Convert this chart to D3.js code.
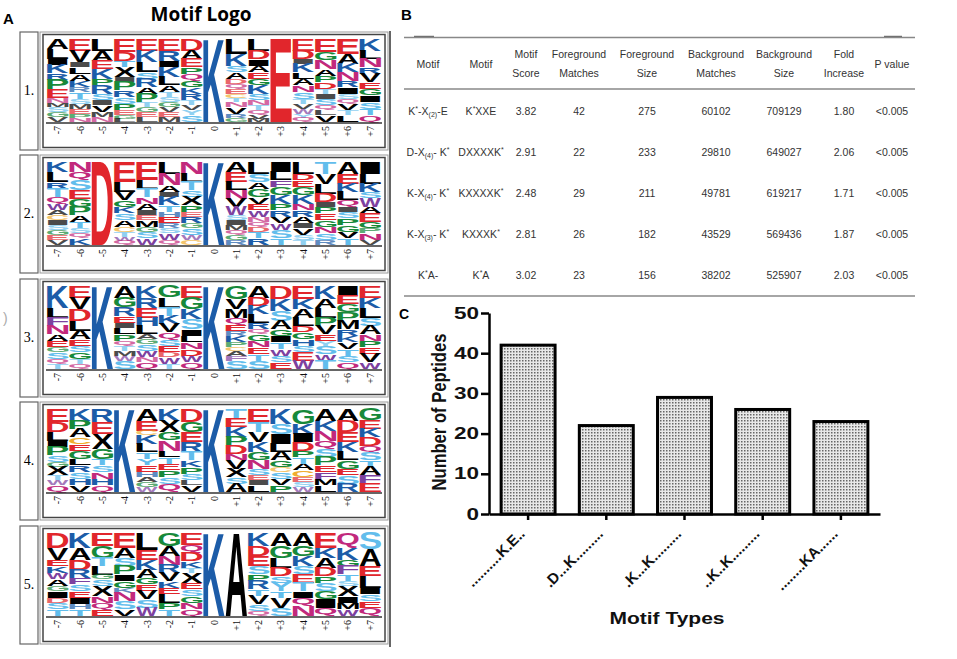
<!DOCTYPE html>
<html>
<head>
<meta charset="utf-8">
<script src="https://cdn.jsdelivr.net/npm/d3@7"></script>
<style>
  body { margin: 0; background: #fff; }
  svg { display: block; }
</style>
</head>
<body>
<svg id="fig" width="957" height="659"></svg>
<script>
// ---- Panel A data: sequence logo stacks, top letter first, "letter height%" ----
const positions = ["-7", "-6", "-5", "-4", "-3", "-2", "-1", "0", "+1", "+2", "+3", "+4", "+5", "+6", "+7"];
const rowNames = ["1.", "2.", "3.", "4.", "5."];

const logo1 = [
  "A12 L12 I7 K10 R8 P12 E10 N6 M5 S6 G6 V6",
  "E14 V14 I6 L8 A8 K8 R6 T8 S6 M6 E6 P5 N5",
  "L14 A12 E10 K12 P8 R10 S8 I6 V8 M6 N6",
  "E16 D10 T8 X12 I6 P10 R8 S8 P8 E6 G4 L4",
  "E14 K14 L12 S8 R10 A8 P10 T6 G6 E6 L6",
  "E14 R12 I8 K12 L10 A8 T6 S6 G6 V6 E6 M6",
  "D14 A10 E10 P8 Q8 G8 K8 R8 T6 V6 Y6 S8",
  "K100",
  "L18 K14 S8 A8 D6 Q6 E6 C5 T5 N6 V8 R5 G5",
  "L14 D10 I8 A8 E8 G8 K10 S8 N6 T6 Q5 V5 M4",
  "E100",
  "E14 D10 I6 K10 L8 A8 N8 S8 T6 V6 W6 Y5 Q5",
  "E16 G10 N10 A8 P8 D8 T6 I6 S8 Q6 L6 V8",
  "E18 A12 K10 N10 R8 I8 S6 Q6 V8 T6 L8",
  "K14 L10 N10 R8 V10 E8 G8 I8 S8 T8 Q8"
];
const logo2 = [
  "K12 L12 R8 T10 Q8 W8 A6 C6 I6 S6 G6 E6 V6",
  "N12 Q10 S12 E10 G10 P10 A8 T8 S6 Q6 K8",
  "D100",
  "E24 L12 V10 G8 K8 S8 A8 C6 T6 W5 Q5",
  "E22 L10 T10 N8 A8 I6 E6 M8 G6 S8 W8",
  "L14 N14 A8 I6 K10 T8 H6 E8 R6 S6 W8 Q6",
  "N14 L10 T10 S8 X10 P8 E6 R8 G6 S8 W6 C6",
  "K100",
  "A12 E12 L10 N10 V10 W10 S6 I6 M6 Q6 G6 R6",
  "L14 S10 A8 G10 V8 E8 W8 N6 Q6 D6 T8 R8",
  "I12 L10 F8 G10 K10 P8 R8 V8 W8 S10 T8",
  "L14 D8 E8 G10 K10 N8 R8 A8 I6 V8 S6 T6",
  "T14 V12 L12 D10 I6 P8 E8 G8 N8 S8 R6",
  "A14 E12 K10 L10 Q8 I6 S8 P8 G8 V8 T8",
  "I14 L12 K10 S8 W10 A8 E10 G8 P6 N8 V6"
];
const logo3 = [
  "K26 L12 F10 N10 A8 E8 G6 S8 Q6 T6",
  "E14 V14 D14 L12 A10 E8 S8 G8 T6 Q6",
  "K100",
  "A14 G12 R10 E8 I6 L8 P8 Q6 T6 M6 W6 S10",
  "K14 R12 E12 H10 L10 A6 G6 S8 W8 N6 Q8",
  "G14 L12 T10 K10 V10 Q8 S8 E8 D6 W8 T6",
  "E14 G14 K12 S12 I8 L8 N8 D8 W8 Q8",
  "K100",
  "G16 V12 M10 Q8 E8 R6 K8 P6 C4 A6 F6 S10",
  "A14 D10 K10 L10 R8 Q6 G8 N8 E8 T8 S10",
  "D16 K14 S12 A10 G8 I8 T8 W8 S8 E8",
  "E16 K12 A10 L10 D8 G8 H8 S8 E10 W10",
  "K16 A10 L12 P10 V10 E8 Y6 S10 W8 T10",
  "I12 E10 G10 P10 M10 R8 K8 V8 T8 S8 Q8",
  "E14 K12 L12 S10 A10 N8 P8 E8 V10 W8"
];
const logo4 = [
  "E16 D12 L10 I8 P10 S8 G6 X10 T6 W6 Q8",
  "K14 P10 A10 C8 E8 G10 L8 R8 S8 H8 V8",
  "R16 E14 X18 G12 T8 S8 N8 H8 Q8",
  "K100",
  "A14 E12 C6 K10 L10 T8 Y8 E8 H6 A6 G6 W6",
  "K14 X14 G10 N12 L8 T8 E8 P8 S8 Q10",
  "D16 G12 E12 R12 T10 K8 P8 S8 L6 V8",
  "K100",
  "T12 E10 K12 P10 D10 N8 V10 X10 S8 A10",
  "E16 T12 V12 K12 G10 N10 S8 E6 I6 L8",
  "K18 S12 I12 L10 A10 G8 C6 S8 V8 P8",
  "G18 K12 I10 D10 P8 T8 A8 C8 E6 S6 W6",
  "A14 K12 N12 Q10 S10 P10 E8 F8 M8 L8",
  "A14 D14 E12 K12 L10 G10 E8 S10 R10",
  "G14 E10 K10 D10 Q8 S10 T8 A10 F10 E10"
];
const logo5 = [
  "D18 V14 E8 K8 W8 A8 G6 I8 D6 S8 T8",
  "K18 A14 D12 R10 F8 S8 E8 I8 H6 T8",
  "E16 G14 T10 L10 G6 S8 X12 N8 Q8 E8",
  "E18 A12 S10 P10 I8 G8 K6 N10 S10 V8",
  "L20 E12 K12 A10 G8 E8 V10 S10 W10",
  "G16 A12 N10 R10 V10 K8 E8 L10 P8 T8",
  "E14 Q10 D10 K8 T6 X12 E8 S8 G8 N8 Q8",
  "K100",
  "A100",
  "K16 D12 E12 S10 P8 R10 T8 V10 S8 Q6",
  "A16 G14 L12 D10 S8 Y10 T8 V12 S10",
  "A16 G12 K12 S10 E10 T10 I8 Q10 N12",
  "E18 K12 A12 D10 P8 S10 G10 I10 Q10",
  "Q18 K14 G8 F10 T8 S6 X12 I8 M8 W8",
  "S20 A20 E12 L14 I8 S8 E8 Q10"
];
const logos = [logo1, logo2, logo3, logo4, logo5];

// ---- Panel B data: motif table ----
const tableHeaders = [["Motif"], ["Motif"], ["Motif", "Score"], ["Foreground", "Matches"],
  ["Foreground", "Size"], ["Background", "Matches"], ["Background", "Size"], ["Fold", "Increase"], ["P value"]];
const motifPatterns = ["K^*-X_(2)-E", "D-X_(4)- K^*", "K-X_(4)- K^*", "K-X_(3)- K^*", "K^*A-"];
const motifCodes = ["K^*XXE", "DXXXXK^*", "KXXXXK^*", "KXXXK^*", "K^*A"];
const motifScores = ["3.82", "2.91", "2.48", "2.81", "3.02"];
const fgMatches = [42, 22, 29, 26, 23];
const fgSizes = [275, 233, 211, 182, 156];
const bgMatches = [60102, 29810, 49781, 43529, 38202];
const bgSizes = [709129, 649027, 619217, 569436, 525907];
const foldIncrease = ["1.80", "2.06", "1.71", "1.87", "2.03"];
const pValues = ["<0.005", "<0.005", "<0.005", "<0.005", "<0.005"];

// ---- Panel C data: bar chart ----
const motifTypes = ["..........K.E..", ".D...K.........", ".K...K.........", "..K..K.........", "........KA......"];
const peptideCounts = [42, 22, 29, 26, 23];
const yTicks = [0, 10, 20, 30, 40, 50];

const svg = d3.select("#fig");
const sans = "'Liberation Sans', Arial, sans-serif";

// amino acid colours
const aaColor = {
  K: "#1c5ca8", R: "#1c5ca8", H: "#1c5ca8",
  D: "#e1262c", E: "#e1262c",
  G: "#17893a", P: "#17893a",
  S: "#62bdec", T: "#62bdec", Y: "#62bdec",
  N: "#c2297c", Q: "#c2297c",
  W: "#7d419f", F: "#7d419f",
  C: "#f0ad2e"
};

// ink bounds of each glyph, so letters can be stretched to fill their cell
const ctx = document.createElement("canvas").getContext("2d");
ctx.font = "bold 100px 'Liberation Sans'";
const glyphs = {};
function glyph(ch) {
  if (!glyphs[ch]) {
    const m = ctx.measureText(ch);
    glyphs[ch] = { l: m.actualBoundingBoxLeft, r: m.actualBoundingBoxRight,
      a: m.actualBoundingBoxAscent, d: m.actualBoundingBoxDescent };
  }
  return glyphs[ch];
}

function parseStack(str) {
  return str.split(" ").map((t) => ({ aa: t[0], h: +t.slice(1) }));
}

// ================= Panel A =================
svg.append("text").attr("x", 3).attr("y", 24).attr("font-family", sans)
  .attr("font-weight", "bold").attr("font-size", "15px").text("A");
svg.append("text").attr("x", 201).attr("y", 21).attr("text-anchor", "middle")
  .attr("font-family", "'Open Sans', sans-serif").attr("font-weight", "bold")
  .attr("font-size", "19px").text("Motif Logo");
svg.append("text").attr("x", 3).attr("y", 323).attr("font-family", sans)
  .attr("font-size", "14px").attr("fill", "#aaa").text(")");

const rowTops = [32, 155, 279, 402, 526];
const rowH = 118;

const xLogo = d3.scaleBand().domain(positions).range([47, 381]).paddingInner(0.04);

logos.forEach((logo, r) => {
  const top = rowTops[r];
  const baseline = top + 90;
  const yLogo = d3.scaleLinear().domain([0, 100]).range([baseline, baseline - 83]);
  const g = svg.append("g");

  // frames
  g.append("rect").attr("x", 20).attr("y", top).attr("width", 18).attr("height", rowH)
    .attr("fill", "none").attr("stroke", "#666").attr("stroke-width", 1.2);
  g.append("text").attr("x", 29).attr("y", top + 63).attr("text-anchor", "middle")
    .attr("font-family", "'Liberation Serif', serif").attr("font-size", "14px").text(rowNames[r]);
  g.append("rect").attr("x", 40).attr("y", top).attr("width", 348).attr("height", rowH)
    .attr("fill", "none").attr("stroke", "#999").attr("stroke-width", 1);
  g.append("rect").attr("x", 43).attr("y", top + 2.5).attr("width", 342).attr("height", rowH - 5)
    .attr("fill", "none").attr("stroke", "#444").attr("stroke-width", 1.5);

  // letter stacks
  logo.forEach((col, i) => {
    const pos = positions[i];
    let cum = 0;
    parseStack(col).forEach((s) => {
      const y0 = yLogo(100 - cum);
      const y1 = yLogo(100 - cum - s.h);
      cum += s.h;
      const m = glyph(s.aa);
      const w = xLogo.bandwidth();
      const sx = w / (m.l + m.r);
      const sy = (y1 - y0) / (m.a + m.d);
      g.append("text")
        .attr("transform", `translate(${xLogo(pos)},${y0}) scale(${sx},${sy}) translate(${m.l},${m.a})`)
        .attr("font-family", "'Liberation Sans'")
        .attr("font-weight", "bold")
        .attr("font-size", "100px")
        .attr("fill", aaColor[s.aa] || "#000")
        .attr("opacity", s.h < 7 ? 0.7 : 1)
        .text(s.aa);
    });
  });

  // position axis
  g.append("line").attr("x1", 46).attr("x2", 382).attr("y1", baseline + 1).attr("y2", baseline + 1)
    .attr("stroke", "#333").attr("stroke-width", 1.5);
  positions.forEach((p) => {
    g.append("text")
      .attr("transform", `translate(${xLogo(p) + xLogo.bandwidth() / 2},${baseline + 4}) rotate(-90)`)
      .attr("text-anchor", "end")
      .attr("dominant-baseline", "central")
      .attr("font-family", "'Liberation Serif', serif")
      .attr("font-size", "10px")
      .attr("fill", "#111")
      .text(p);
  });
});

svg.append("line").attr("x1", 390).attr("x2", 390).attr("y1", 31).attr("y2", 647)
  .attr("stroke", "#666").attr("stroke-width", 2);

// ================= Panel B =================
svg.append("text").attr("x", 401).attr("y", 20).attr("font-family", sans)
  .attr("font-weight", "bold").attr("font-size", "15px").text("B");

const tb = svg.append("g").attr("font-family", sans).attr("font-size", "10.5px").attr("fill", "#333");
const colX = [428, 481, 526, 579, 647, 716, 784, 844, 892];
const rowY = d3.scalePoint().domain(d3.range(5)).range([111, 275]);

[37.5, 89, 296].forEach((y) => {
  tb.append("line").attr("x1", 404).attr("x2", 915).attr("y1", y).attr("y2", y)
    .attr("stroke", "#888").attr("stroke-width", 1.4);
});
[[414, 434], [884, 902]].forEach(([a, b]) => {
  tb.append("line").attr("x1", a).attr("x2", b).attr("y1", 36.3).attr("y2", 36.3)
    .attr("stroke", "#555").attr("stroke-width", 1);
});

tableHeaders.forEach((lines, c) => {
  const ys = lines.length === 1 ? [67.5] : [58, 77];
  lines.forEach((t, k) => {
    tb.append("text").attr("x", colX[c]).attr("y", ys[k]).attr("text-anchor", "middle").text(t);
  });
});

function richText(sel, str) {
  let shift = 0;
  str.split(/(\^\*|_\(\d\))/).filter((s) => s).forEach((p) => {
    if (p === "^*") {
      sel.append("tspan").attr("dy", -3.5 - shift).attr("font-size", "7px").text("*");
      shift = -3.5;
    } else if (p[0] === "_") {
      sel.append("tspan").attr("dy", 2.5 - shift).attr("font-size", "7px").text(p.slice(1));
      shift = 2.5;
    } else {
      sel.append("tspan").attr("dy", -shift).text(p);
      shift = 0;
    }
  });
}

const columns = [motifPatterns, motifCodes, motifScores, fgMatches, fgSizes, bgMatches, bgSizes, foldIncrease, pValues];
columns.forEach((vals, c) => {
  vals.forEach((v, r) => {
    const t = tb.append("text").attr("x", colX[c]).attr("y", rowY(r) + 3.8).attr("text-anchor", "middle");
    if (c < 2) richText(t, v);
    else t.text(v);
  });
});

// ================= Panel C =================
svg.append("text").attr("x", 399).attr("y", 319).attr("font-family", sans)
  .attr("font-weight", "bold").attr("font-size", "14px").text("C");

const defs = svg.append("defs");
const pat = defs.append("pattern").attr("id", "stipple").attr("width", 3).attr("height", 3)
  .attr("patternUnits", "userSpaceOnUse");
pat.append("rect").attr("width", 3).attr("height", 3).attr("fill", "#e8e8e8");
pat.append("rect").attr("width", 1.5).attr("height", 1.5).attr("fill", "#666");

const xb = d3.scaleBand().domain(motifTypes).range([489, 880]).paddingInner(0.31).paddingOuter(0.155);
const yb = d3.scaleLinear().domain([0, 50]).range([514, 313]);

const gc = svg.append("g");

gc.selectAll("rect.bar")
  .data(peptideCounts)
  .enter()
  .append("rect")
  .attr("class", "bar")
  .attr("x", (d, i) => xb(motifTypes[i]))
  .attr("y", (d) => yb(d))
  .attr("width", xb.bandwidth())
  .attr("height", (d) => yb(0) - yb(d))
  .attr("fill", "url(#stipple)")
  .attr("stroke", "#000")
  .attr("stroke-width", 3);

// Y axis
const yAxis = gc.append("g").attr("transform", "translate(489,0)")
  .call(d3.axisLeft(yb).tickValues(yTicks).tickSize(8).tickSizeOuter(0).tickPadding(2));
yAxis.select(".domain").attr("stroke-width", 2.5);
yAxis.selectAll(".tick line").attr("stroke-width", 2.5);
yAxis.selectAll(".tick text")
  .attr("font-family", sans).attr("font-weight", "bold").attr("font-size", "16px")
  .attr("fill", "#111")
  .attr("textLength", (d) => String(d).length * 12.5)
  .attr("lengthAdjust", "spacingAndGlyphs");

// X axis
const xAxis = gc.append("g").attr("transform", "translate(0,514)")
  .call(d3.axisBottom(xb).tickSize(6).tickSizeOuter(0).tickFormat(""));
xAxis.select(".domain").attr("stroke-width", 2.5);
xAxis.selectAll(".tick line").attr("stroke-width", 2.5);

motifTypes.forEach((m) => {
  gc.append("text")
    .attr("transform", `translate(${xb(m) + xb.bandwidth() / 2 - 6},531) rotate(-45)`)
    .attr("text-anchor", "end")
    .attr("dy", "0.35em")
    .attr("font-family", sans).attr("font-weight", "bold").attr("font-size", "15px")
    .attr("fill", "#111")
    .text(m);
});

gc.append("text")
  .attr("transform", "translate(446,412) rotate(-90)")
  .attr("text-anchor", "middle")
  .attr("font-family", sans).attr("font-weight", "bold").attr("font-size", "20px")
  .attr("textLength", 157).attr("lengthAdjust", "spacingAndGlyphs")
  .attr("fill", "#111")
  .text("Number of Peptides");

gc.append("text")
  .attr("x", 667).attr("y", 624)
  .attr("text-anchor", "middle")
  .attr("font-family", sans).attr("font-weight", "bold").attr("font-size", "17px")
  .attr("textLength", 115).attr("lengthAdjust", "spacingAndGlyphs")
  .attr("fill", "#111")
  .text("Motif  Types");
</script>
</body>
</html>
